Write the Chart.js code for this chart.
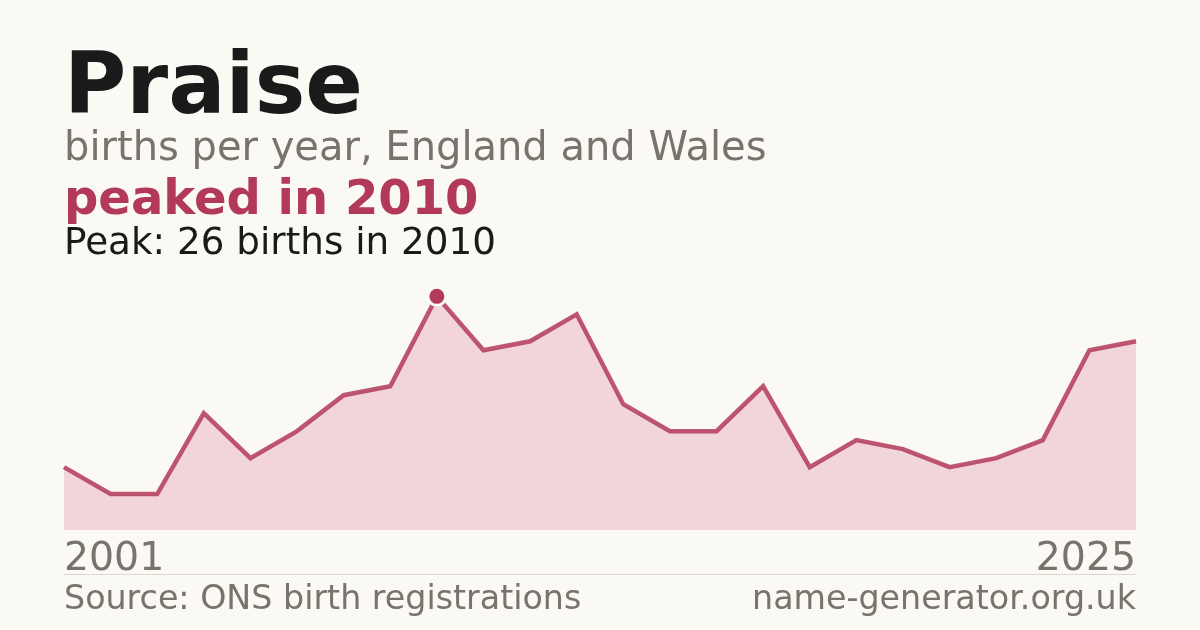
<!DOCTYPE html>
<html>
<head>
<meta charset="utf-8">
<script src="https://cdn.jsdelivr.net/npm/chart.js@4/dist/chart.umd.min.js"></script>
<style>
  html, body { margin: 0; padding: 0; background: #faf9f4; }
  #wrap { width: 1200px; height: 630px; position: relative; }
</style>
</head>
<body>
<div id="wrap"><canvas id="chart" width="1200" height="630"></canvas></div>
<script>
const years = ['2001', '2002', '2003', '2004', '2005', '2006', '2007', '2008',
  '2010', '2011', '2012', '2013', '2014', '2015', '2016', '2017', '2018',
  '2019', '2020', '2021', '2022', '2023', '2024', '2025']
const births = [7, 4, 4, 13, 8, 11, 15, 16, 26, 20, 21, 24, 14, 11, 11, 16, 7,
  10, 9, 7, 8, 10, 20, 21]

const title = 'Praise'
const subtitle = 'births per year, England and Wales'
const headline = 'peaked in 2010'
const peakNote = 'Peak: 26 births in 2010'
const source = 'Source: ONS birth registrations'
const site = 'name-generator.org.uk'

const CRIMSON = '#b3395a'
const GREY = '#78736c'
const FONT = '"DejaVu Sans", sans-serif'

const peakIdx = births.indexOf(Math.max(...births))

const textPlugin = {
  id: 'texts',
  afterDraw(chart) {
    const ctx = chart.ctx
    const { left, right } = chart.chartArea
    ctx.save()
    ctx.textBaseline = 'alphabetic'
    ctx.textAlign = 'left'

    ctx.fillStyle = '#1a1a1a'
    ctx.font = `bold 85px ${FONT}`
    ctx.fillText(title, left, 113)

    ctx.fillStyle = GREY
    ctx.font = `40px ${FONT}`
    ctx.fillText(subtitle, left, 160)

    ctx.fillStyle = CRIMSON
    ctx.font = `bold 48px ${FONT}`
    ctx.fillText(headline, left, 214)

    ctx.fillStyle = '#1a1a1a'
    ctx.font = `37.3px ${FONT}`
    ctx.fillText(peakNote, left, 254)

    // end-year labels
    ctx.fillStyle = GREY
    ctx.font = `39.4px ${FONT}`
    ctx.fillText(years[0], left, 570)
    ctx.textAlign = 'right'
    ctx.fillText(years[years.length - 1], right, 570)

    // separator
    ctx.strokeStyle = '#dddad3'
    ctx.lineWidth = 1
    ctx.beginPath()
    ctx.moveTo(left, 574.5)
    ctx.lineTo(right, 574.5)
    ctx.stroke()

    ctx.font = `33.3px ${FONT}`
    ctx.textAlign = 'left'
    ctx.fillText(source, left, 609)
    ctx.textAlign = 'right'
    ctx.fillText(site, right, 609)
    ctx.restore()
  }
}

new Chart(document.getElementById('chart'), {
  type: 'line',
  data: {
    labels: years,
    datasets: [{
      data: births,
      borderColor: 'rgba(179,57,90,0.85)',
      backgroundColor: '#f2d5db',
      borderWidth: 4.5,
      borderJoinStyle: 'miter',
      fill: 'origin',
      tension: 0,
      pointRadius: births.map((_, i) => i === peakIdx ? 9 : 0),
      pointBackgroundColor: CRIMSON,
      pointBorderColor: '#faf9f4',
      pointBorderWidth: 3,
      pointHoverRadius: 0,
    }]
  },
  options: {
    responsive: false,
    animation: false,
    layout: { padding: { left: 64, right: 64, top: 273, bottom: 100 } },
    scales: {
      x: { display: false, offset: false },
      y: { display: false, min: 0, max: 28.6 }
    },
    plugins: {
      legend: { display: false },
      tooltip: { enabled: false }
    }
  },
  plugins: [textPlugin]
})
</script>
</body>
</html>
